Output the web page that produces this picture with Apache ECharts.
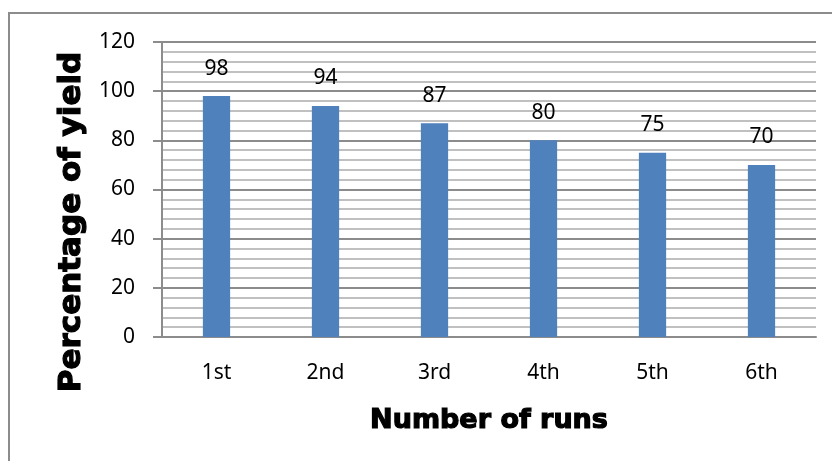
<!DOCTYPE html>
<html>
<head>
<meta charset="utf-8">
<script src="https://cdn.jsdelivr.net/npm/echarts@6/dist/echarts.min.js"></script>
<style>html,body{margin:0;padding:0;background:#fff;}#c{width:832px;height:461px;}</style>
</head>
<body>
<div id="c"></div>
<script>
var categories = ['1st', '2nd', '3rd', '4th', '5th', '6th'];
var yieldValues = [98, 94, 87, 80, 75, 70];
var yTicks = [0, 20, 40, 60, 80, 100, 120];
var xTitle = 'Number of runs';
var yTitle = 'Percentage of yield';

var chart = echarts.init(document.getElementById('c'), null, {renderer: 'canvas'});
var labelFont = '"Noto Sans", "Open Sans", sans-serif';
var titleFont = '"DejaVu Sans", sans-serif';
chart.setOption({
  animation: false,
  backgroundColor: '#fff',
  grid: {left: 162, right: 16, top: 42, bottom: 124, containLabel: false},
  graphic: [
    {type: 'rect', z: -10, shape: {x: 9, y: 13, width: 900, height: 700},
     style: {fill: 'none', stroke: '#8c8c8c', lineWidth: 2}},
    {type: 'text', x: 72, y: 222, rotation: Math.PI / 2,
     style: {text: yTitle, font: 'bold 31px ' + titleFont, fill: '#000',
       stroke: '#000', lineWidth: 1.2, align: 'center', verticalAlign: 'middle'}}
  ],
  xAxis: {
    type: 'category',
    data: categories,
    axisLine: {show: true, lineStyle: {color: '#8c8c8c', width: 2}},
    axisTick: {show: false},
    axisLabel: {color: '#000', fontSize: 21, fontFamily: labelFont, margin: 26},
    name: xTitle,
    nameLocation: 'middle',
    nameGap: 70,
    nameTextStyle: {color: '#000', fontSize: 27, fontWeight: 'bold', fontFamily: titleFont,
      textBorderColor: '#000', textBorderWidth: 1.2}
  },
  yAxis: {
    type: 'value',
    min: 0, max: 120, interval: 20,
    axisLine: {show: true, lineStyle: {color: '#8c8c8c', width: 2}},
    axisTick: {show: true, length: 9, lineStyle: {color: '#8c8c8c', width: 2}},
    axisLabel: {color: '#000', fontSize: 21, fontFamily: labelFont, margin: 27,
      formatter: function (v) { return yTicks.indexOf(v) >= 0 ? String(v) : ''; }},
    splitLine: {show: true, lineStyle: {color: '#8c8c8c', width: 2}},
    minorTick: {show: false, splitNumber: 5},
    minorSplitLine: {show: true, lineStyle: {color: '#c0c0c0', width: 2}}
  },
  series: [{
    type: 'bar',
    data: yieldValues,
    barWidth: '25%',
    itemStyle: {color: '#4f81bd'},
    label: {show: true, position: 'top', distance: 17, color: '#000', fontSize: 21, fontFamily: labelFont}
  }]
});
</script>
</body>
</html>
